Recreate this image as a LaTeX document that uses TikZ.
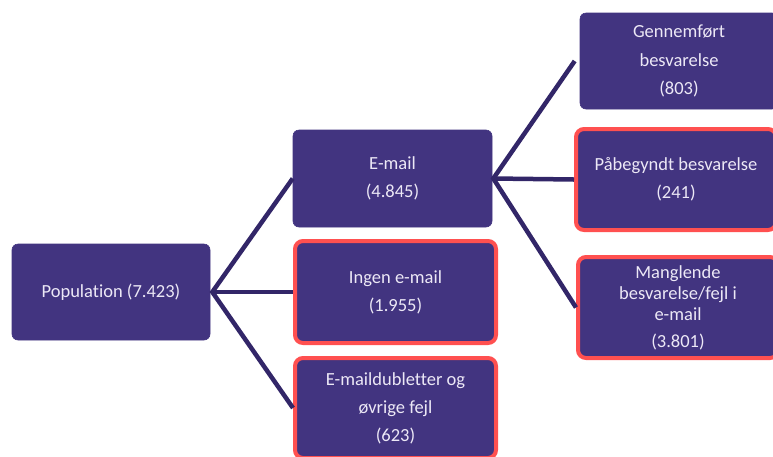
\documentclass[tikz,border=0pt]{standalone}
\usepackage{fontspec}
\setmainfont{Carlito}[Ligatures=NoCommon]
\definecolor{boxfill}{RGB}{66,52,128}
\definecolor{boxtext}{RGB}{236,232,246}
\definecolor{redline}{RGB}{255,80,80}
\definecolor{conn}{RGB}{50,38,104}
\begin{document}
\begin{tikzpicture}[x=1pt,y=-1pt,
  box/.style={fill=boxfill,draw=boxfill,line width=0.6pt,rounded corners=6pt,text=boxtext,align=center,
    inner sep=0pt,font=\fontsize{18.5}{21}\selectfont},
  redbox/.style={box,draw=redline,line width=4pt,rounded corners=8pt},
  conn/.style={draw=conn,line width=4.5pt}]
\useasboundingbox (0,0) rectangle (773,456);
\node[box,minimum width=198pt,minimum height=96pt] (pop) at (111,292) {Population (7.423)};
\node[box,minimum width=199pt,minimum height=97pt] (email) at (392.5,178.5) {E-mail\\[7pt](4.845)};
\node[redbox,minimum width=201pt,minimum height=102pt] (ingen) at (395.5,292) {Ingen e-mail\\[7pt](1.955)};
\node[redbox,minimum width=201pt,minimum height=100pt] (dubl) at (395.5,408) {E-maildubletter og\\[7pt]øvrige fejl\\[7pt](623)};
\node[box,minimum width=198pt,minimum height=96pt] (genn) at (679,61) {Gennemført\\[8pt]besvarelse\\[7pt](803)};
\node[redbox,minimum width=200pt,minimum height=101pt] (paab) at (676,179.5) {Påbegyndt besvarelse\\[7pt](241)};
\node[redbox,minimum width=200pt,minimum height=101pt] (mang) at (678,307.5) {Manglende\\besvarelse/fejl i\\e-mail\\[6pt](3.801)};
\coordinate (j1) at ([xshift=2pt]pop.east);
\coordinate (j2) at ([xshift=1pt]email.east);
\draw[conn,line join=miter] (email.west) -- (j1) -- (dubl.west);
\draw[conn] (j1) -- (ingen.west);
\draw[conn,line join=miter] ([xshift=-5pt]genn.west) -- (j2) -- (mang.west);
\draw[conn] (j2) -- (paab.west);
\end{tikzpicture}
\end{document}
